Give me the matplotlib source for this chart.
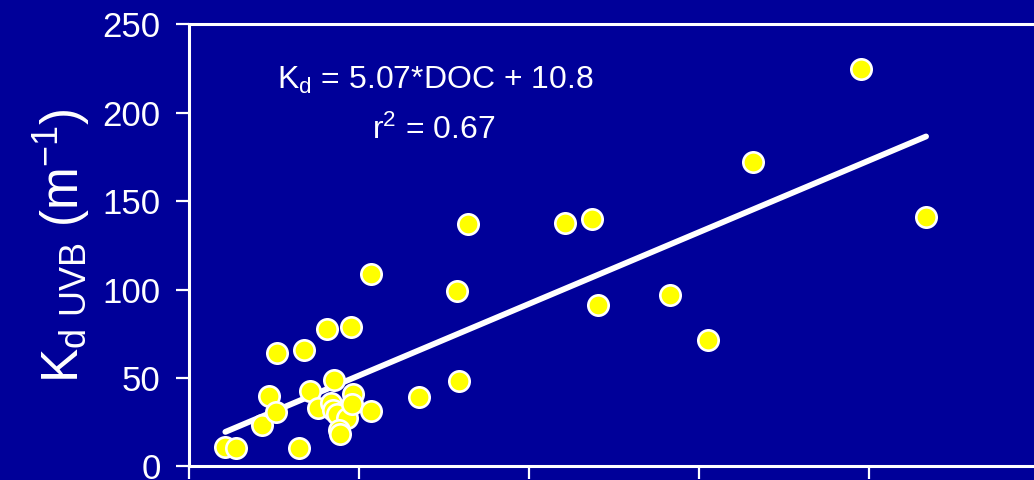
import numpy as np
import matplotlib.pyplot as plt

plt.rcParams['font.family'] = ['Liberation Sans', 'DejaVu Sans']
plt.rcParams['mathtext.default'] = 'regular'

# DOC vs Kd UVB values
doc = [1.71, 2.20, 5.18, 3.43, 3.74, 4.09, 4.15, 5.40, 5.70, 6.05,
       6.50, 7.60, 8.57, 6.80, 6.67, 6.77, 6.98, 7.41, 7.04, 7.10,
       7.72, 7.66, 8.56, 10.80, 12.71, 12.60, 13.10, 17.70, 18.94, 19.24,
       22.61, 24.39, 26.51, 31.59, 34.67]
kd = [11.2, 10.2, 10.2, 23.1, 40.0, 30.7, 64.0, 65.7, 42.4, 32.8,
      77.6, 79.0, 109.0, 48.6, 36.0, 31.8, 29.8, 27.1, 20.7, 18.0,
      40.9, 35.2, 31.1, 39.2, 48.2, 99.4, 136.8, 137.7, 139.8, 91.0,
      97.0, 71.6, 172.2, 224.8, 140.8]

slope = 5.07
intercept = 10.8

bg = '#000099'

fig = plt.figure(figsize=(10.34, 4.8), dpi=100, facecolor=bg)
ax = fig.add_axes([0.1828, 0.0285, 0.8224, 0.9208], facecolor=bg)

# regression line over the data range
x_fit = np.array([min(doc), max(doc)])
ax.plot(x_fit, slope * x_fit + intercept, color='white', linewidth=4.2,
        solid_capstyle='round', zorder=2)

ax.scatter(doc, kd, s=215, color='#ffff00', edgecolor='white',
           linewidth=1.9, zorder=3)

ax.set_xlim(0, 40)
ax.set_ylim(0, 250)
ax.set_xticks(np.arange(0, 41, 8))
ax.set_yticks(np.arange(0, 251, 50))

for side in ['left', 'bottom', 'top', 'right']:
    ax.spines[side].set_color('white')
    ax.spines[side].set_linewidth(2.2)
ax.spines['left'].set_bounds(0, 250)

ax.tick_params(axis='y', colors='white', labelsize=25, length=9.5,
               width=1.6, pad=11)
ax.tick_params(axis='x', colors='white', length=9, width=1.6,
               labelbottom=False, direction='out')

ax.set_ylabel(r'K$_{d\ UVB}$ (m$^{-1}$)', color='white', fontsize=37)
ax.yaxis.set_label_coords(-0.113, 0.5)

ax.text(11.6, 213.7, r'K$_{d}$ = 5.07*DOC + 10.8', color='white',
        fontsize=23, ha='center', va='baseline')
ax.text(11.5, 185.0, r'r$^{2}$ = 0.67', color='white',
        fontsize=23, ha='center', va='baseline')

fig.savefig('out.png', dpi=100, facecolor=bg)
